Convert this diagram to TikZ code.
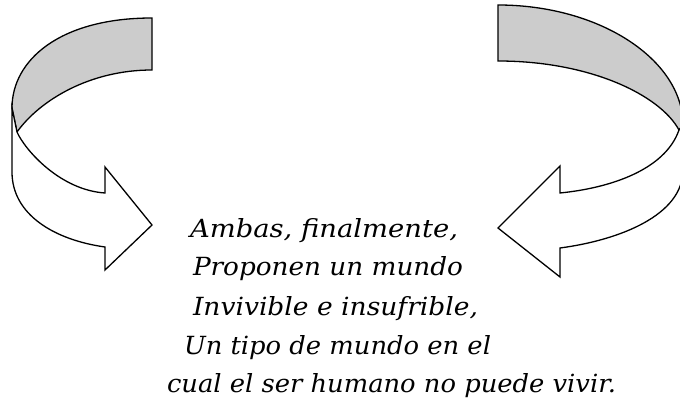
\documentclass[tikz,border=0pt]{standalone}
\usepackage{fontspec}
\setmainfont{DejaVu Serif}
\definecolor{bandgray}{RGB}{204,204,204}
\newcommand{\fitline}[2]{\resizebox{#1}{\height}{#2}}

\begin{document}
\begin{tikzpicture}[x=1pt,y=-1pt,every node/.style={inner sep=0pt,outer sep=0pt}]
      \tikzstyle{arrowline}=[draw=black,line width=1.3pt,line join=miter]
      \tikzstyle{band}=[arrowline,fill=bandgray]
      \tikzstyle{body}=[arrowline,fill=white]
      \tikzstyle{verse}=[anchor=base west,font=\fontsize{25}{30}\selectfont\itshape]

      \useasboundingbox (0,0) rectangle (680,406);

      % left arrow
      \draw [band] (152,18) .. controls (60,18) and (12,60) .. (12,108) -- (17,132)
        .. controls (40,100) and (90,70) .. (152,70) -- cycle;
      \draw [body] (12,108) -- (12,172) .. controls (12,215) and (55,240) .. (105,247)
        -- (105,270) -- (152,225) -- (105,167) -- (105,193)
        .. controls (60,190) and (25,150) .. (17,132) -- cycle;

      % right arrow
      \draw [band] (498,5) .. controls (600,5) and (683,60) .. (683,125) -- (679,130)
        .. controls (660,95) and (590,61) .. (498,61) -- cycle;
      \draw [body] (683,125) -- (683,170) .. controls (683,215) and (620,240) .. (560,248)
        -- (560,277) -- (498,228) -- (560,166) -- (560,193)
        .. controls (610,188) and (665,170) .. (679,130) -- cycle;

      % text
      \node (txt1) [verse] at (190,237) {\fitline{268pt}{Ambas, finalmente,}};
      \node (txt2) [verse] at (193,276) {\fitline{270pt}{Proponen un mundo}};
      \node (txt3) [verse] at (193,315) {\fitline{285pt}{Invivible e insufrible,}};
      \node (txt4) [verse] at (184,354) {\fitline{307pt}{Un tipo de mundo en el}};
      \node (txt5) [verse] at (167,392) {\fitline{449pt}{cual el ser humano no puede vivir.}};
    \end{tikzpicture}
\end{document}
